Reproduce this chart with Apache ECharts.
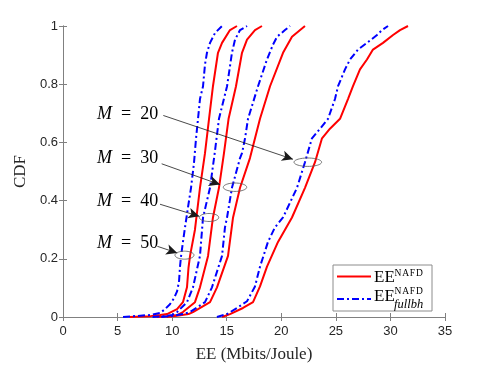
<!DOCTYPE html>
<html>
<head>
<meta charset="utf-8">
<script src="https://cdn.jsdelivr.net/npm/echarts@6/dist/echarts.min.js"></script>
<style>
html, body { margin: 0; padding: 0; background: #fff; }
#main { width: 491px; height: 368px; }
</style>
</head>
<body>
<div id="main"></div>
<script>
// CDF curves, [EE, CDF] pairs
const redM50 = [[6.1,0],[8.0,0.003],[8.9,0.007],[9.53,0.010],[10.45,0.027],[10.99,0.051],[11.36,0.102],[11.5,0.17],[11.64,0.21],[12.09,0.30],[12.55,0.444],[13.01,0.563],[13.38,0.681],[13.74,0.793],[14.2,0.908],[14.57,0.942],[15.3,0.986],[15.94,1]];
const blueM50 = [[5.5,0],[8.0,0.007],[8.9,0.014],[9.35,0.027],[9.8,0.044],[10.17,0.064],[10.45,0.088],[10.63,0.122],[10.72,0.173],[10.81,0.207],[10.99,0.258],[11.18,0.308],[11.45,0.376],[11.73,0.444],[12.0,0.529],[12.19,0.614],[12.37,0.681],[12.55,0.749],[12.83,0.793],[13.01,0.868],[13.19,0.908],[13.47,0.942],[13.93,0.976],[14.57,1]];
const redM40 = [[8.6,0],[9.8,0.003],[10.5,0.007],[10.99,0.017],[12.09,0.051],[12.55,0.102],[13.29,0.21],[13.74,0.342],[14.29,0.444],[14.75,0.563],[15.17,0.681],[15.85,0.793],[16.40,0.908],[16.86,0.953],[17.59,0.986],[18.23,1]];
const blueM40 = [[8.2,0],[9.35,0.003],[10.0,0.007],[10.45,0.017],[11.36,0.051],[11.91,0.102],[12.55,0.21],[12.83,0.342],[13.47,0.444],[13.9,0.563],[14.29,0.681],[15.03,0.793],[15.48,0.908],[15.76,0.953],[16.22,0.986],[16.86,1]];
const redM30 = [[9.5,0],[10.6,0.005],[11.5,0.010],[11.91,0.017],[13.47,0.051],[14.11,0.102],[15.12,0.21],[15.58,0.342],[16.22,0.444],[17.13,0.546],[18.05,0.681],[18.97,0.793],[20.16,0.908],[20.98,0.963],[22.17,1]];
const blueM30 = [[9.0,0],[10.2,0.005],[11.0,0.010],[11.64,0.017],[13.01,0.051],[13.65,0.102],[14.57,0.21],[14.84,0.308],[15.03,0.342],[15.48,0.444],[16.22,0.546],[16.40,0.563],[16.68,0.614],[16.95,0.681],[17.87,0.793],[18.69,0.885],[19.24,0.936],[19.61,0.963],[20.34,0.986],[20.80,1]];
const redM20 = [[14.57,0],[15.30,0.010],[16.49,0.031],[17.41,0.051],[18.05,0.105],[18.69,0.173],[19.70,0.258],[20.98,0.342],[22.17,0.444],[23.09,0.532],[23.73,0.614],[24.46,0.647],[25.38,0.681],[26.11,0.749],[26.57,0.793],[27.21,0.851],[27.85,0.885],[28.40,0.919],[29.32,0.942],[30.24,0.969],[30.88,0.986],[31.61,1]];
const blueM20 = [[14.1,0],[15.03,0.010],[15.94,0.031],[16.86,0.054],[17.59,0.105],[18.05,0.173],[18.78,0.258],[19.42,0.308],[20.16,0.342],[21.44,0.444],[22.17,0.532],[22.81,0.614],[23.55,0.647],[24.28,0.681],[24.92,0.749],[25.20,0.793],[25.84,0.851],[26.30,0.885],[27.03,0.919],[27.85,0.942],[28.77,0.969],[29.23,0.986],[29.78,1]];

// annotations (data coords)
const mLabels = ['20', '30', '40', '50'];
const labelAt = [[3.12,0.698],[3.12,0.546],[3.12,0.399],[3.12,0.252]];
const arrowFrom = [[9.19,0.6925],[9.04,0.5265],[8.89,0.3875],[8.64,0.243]];
const arrowTo = [[21.07,0.542],[14.39,0.455],[12.49,0.346],[10.47,0.220]];
const ellipseAt = [[22.43,0.532],[15.76,0.446],[13.38,0.342],[11.13,0.2125]];
const ellipseR = [[13.8,4.2],[11.7,4.2],[9.7,4],[9.5,4]]; // px

const textCol = '#262626';
const axisCol = '#808080';
const sansFont = 'Arial, "Liberation Sans", Helvetica, sans-serif';
const serifFont = '"Liberation Serif", "Times New Roman", serif';

function curve(name, data, dashed) {
  return {
    name: name,
    type: 'line',
    data: data,
    symbol: 'none',
    showSymbol: false,
    silent: true,
    z: dashed ? 3 : 2,
    lineStyle: {
      color: dashed ? '#0000ff' : '#ff0000',
      width: 2,
      type: dashed ? [7, 3, 2, 3] : 'solid'
    }
  };
}

let chart = echarts.init(document.getElementById('main'), null, { renderer: 'canvas' });

let series = [
  curve('EE', redM50, false),
  curve('EEfb', blueM50, true),
  curve('EE', redM40, false),
  curve('EEfb', blueM40, true),
  curve('EE', redM30, false),
  curve('EEfb', blueM30, true),
  curve('EE', redM20, false),
  curve('EEfb', blueM20, true)
];
series.push({
  type: 'line',
  data: [],
  silent: true,
  markLine: {
    silent: true,
    animation: false,
    symbol: ['none', 'arrow'],
    symbolSize: [8, 11],
    label: { show: false },
    emphasis: { disabled: true },
    lineStyle: { color: '#1a1a1a', width: 0.8, type: 'solid' },
    itemStyle: { color: '#1a1a1a' },
    data: arrowFrom.map(function (p, i) { return [{ coord: p }, { coord: arrowTo[i] }]; })
  }
});

let tickLabel = { color: textCol, fontFamily: sansFont, fontSize: 13 };

let option = {
  animation: false,
  backgroundColor: '#ffffff',
  grid: { left: 63, right: 46, top: 26, bottom: 47 },
  xAxis: [
    {
      type: 'value', min: 0, max: 35, interval: 5,
      name: 'EE (Mbits/Joule)', nameLocation: 'middle', nameGap: 29,
      nameTextStyle: { fontFamily: serifFont, fontSize: 17, color: textCol },
      axisLine: { lineStyle: { color: axisCol, width: 1 } },
      axisTick: { inside: true, length: 4, lineStyle: { color: axisCol } },
      axisLabel: Object.assign({ margin: 8 }, tickLabel),
      splitLine: { show: false }
    },
    {
      type: 'value', position: 'top', min: 0, max: 35, interval: 5,
      axisLine: { lineStyle: { color: axisCol, width: 1 } },
      axisTick: { inside: true, length: 4, lineStyle: { color: axisCol } },
      axisLabel: { show: false },
      splitLine: { show: false }
    }
  ],
  yAxis: [
    {
      type: 'value', min: 0, max: 1, interval: 0.2,
      name: 'CDF', nameLocation: 'middle', nameGap: 31,
      nameTextStyle: { fontFamily: serifFont, fontSize: 17, color: textCol },
      axisLine: { show: true, lineStyle: { color: axisCol, width: 1 } },
      axisTick: { show: true, inside: true, length: 4, lineStyle: { color: axisCol } },
      axisLabel: Object.assign({ margin: 5 }, tickLabel),
      splitLine: { show: false }
    },
    {
      type: 'value', position: 'right', min: 0, max: 1, interval: 0.2,
      axisLine: { show: true, lineStyle: { color: axisCol, width: 1 } },
      axisTick: { show: true, inside: true, length: 4, lineStyle: { color: axisCol } },
      axisLabel: { show: false },
      splitLine: { show: false }
    }
  ],
  series: series
};
chart.setOption(option, true);

// ellipses, labels and legend drawn on top
const toPx = function (p) { return chart.convertToPixel({ seriesIndex: 0 }, p); };
let graphics = [];

ellipseAt.forEach(function (c, i) {
  let ctr = toPx(c);
  let pts = [];
  for (let k = 0; k < 48; k++) {
    let t = k / 48 * Math.PI * 2;
    pts.push([ctr[0] + ellipseR[i][0] * Math.cos(t), ctr[1] + ellipseR[i][1] * Math.sin(t)]);
  }
  graphics.push({
    type: 'polygon', silent: true, z: 10,
    shape: { points: pts },
    style: { fill: 'none', stroke: '#555', lineWidth: 0.8 }
  });
});

labelAt.forEach(function (p, i) {
  let pos = toPx(p);
  graphics.push({
    type: 'text', silent: true, z: 10,
    x: pos[0], y: pos[1],
    style: {
      text: '{i|M}{t|\u2002=\u2002' + mLabels[i] + '}',
      fill: '#000',
      textAlign: 'left', textVerticalAlign: 'middle',
      align: 'left', verticalAlign: 'middle',
      rich: {
        i: { fontFamily: serifFont, fontStyle: 'italic', fontSize: 18, fill: '#000', color: '#000' },
        t: { fontFamily: serifFont, fontSize: 18, fill: '#000', color: '#000' }
      }
    }
  });
});

// legend box
function txt(s, x, y, size, italic) {
  return {
    type: 'text', silent: true, x: x, y: y,
    style: {
      text: s, fill: '#000',
      font: (italic ? 'italic ' : '') + size + 'px ' + serifFont,
      textAlign: 'left', textVerticalAlign: 'middle',
      align: 'left', verticalAlign: 'middle'
    }
  };
}
graphics.push({
  type: 'group', x: 333, y: 265, z: 20, silent: true,
  children: [
    { type: 'rect', shape: { x: 0, y: 0, width: 99, height: 46 },
      style: { fill: '#fff', stroke: '#8c8c8c', lineWidth: 1 } },
    { type: 'line', shape: { x1: 4, y1: 11.5, x2: 38, y2: 11.5 },
      style: { stroke: '#ff0000', lineWidth: 2 } },
    { type: 'line', shape: { x1: 4, y1: 34, x2: 38, y2: 34 },
      style: { stroke: '#0000ff', lineWidth: 2, lineDash: [7, 3, 2, 3] } },
    txt('EE', 41, 12.5, 17, false),
    txt('N\u200aA\u200aF\u200aD', 61.5, 8, 9.5, false),
    txt('EE', 41, 32, 17, false),
    txt('N\u200aA\u200aF\u200aD', 61.5, 26.5, 9.5, false),
    txt('fullbh', 61, 39.5, 12.5, true)
  ]
});

chart.setOption({ graphic: graphics });
</script>
</body>
</html>
